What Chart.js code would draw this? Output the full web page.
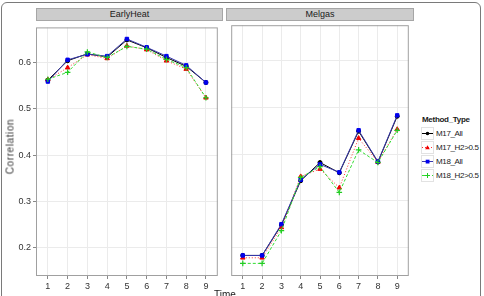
<!DOCTYPE html>
<html>
<head>
<meta charset="utf-8">
<script src="https://cdn.jsdelivr.net/npm/chart.js@4/dist/chart.umd.min.js"></script>
<style>
  html,body{margin:0;padding:0;background:#fff;}
  body{width:484px;height:296px;position:relative;overflow:hidden;font-family:"Liberation Sans",Arial,sans-serif;}
  .frame{position:absolute;left:1px;top:2px;width:478px;height:310px;border:1px solid #7a7a7a;border-radius:6px;}
  canvas{position:absolute;}
  .strip{position:absolute;top:8px;height:11px;background:#cccccc;border:1px solid #a6a6a6;
    font-size:9px;line-height:11px;text-align:center;color:#1a1a1a;box-sizing:content-box;}
  .ytitle{position:absolute;left:-22px;top:141px;width:64px;text-align:center;font-size:10px;font-weight:normal;
    letter-spacing:0.6px;color:#333;transform:rotate(-90deg);}
  .xtitle{position:absolute;left:205px;top:289px;width:40px;text-align:center;font-size:10px;color:#1a1a1a;}
  .legend{position:absolute;left:421px;top:113px;font-size:8px;color:#1a1a1a;letter-spacing:-0.35px;}
  .legend .ttl{font-weight:bold;height:13px;line-height:13px;letter-spacing:-0.3px;margin-left:1px;}
  .legend .row{height:14px;display:flex;align-items:center;}
  .legend svg{display:block;margin-right:2px;}
</style>
</head>
<body>
<div class="frame"></div>
<div class="strip" style="left:36px;width:185px;">EarlyHeat</div>
<div class="strip" style="left:226px;width:186px;">Melgas</div>
<canvas id="left" width="223" height="276" style="left:0;top:20px;width:223px;height:276px;"></canvas>
<canvas id="right" width="188" height="276" style="left:226px;top:20px;width:188px;height:276px;"></canvas>
<div class="ytitle">Correlation</div>
<div class="xtitle">Time</div>
<div class="legend" id="legend"><div class="ttl">Method_Type</div></div>
<script>
/* ── Data ── */
const times=[1,2,3,4,5,6,7,8,9];
const yTicks=[0.2,0.3,0.4,0.5,0.6];
const seriesNames=['M17_All','M17_H2>0.5','M18_All','M18_H2>0.5'];

const earlyM17All=[0.562,0.604,0.619,0.612,0.649,0.632,0.611,0.592,0.557];
const earlyM17H2=[0.563,0.589,0.617,0.609,0.636,0.628,0.604,0.586,0.524];
const earlyM18All=[0.559,0.606,0.618,0.614,0.651,0.633,0.614,0.594,0.557];
const earlyM18H2=[0.564,0.579,0.623,0.611,0.635,0.629,0.607,0.589,0.524];

const melgasM17All=[0.183,0.183,0.248,0.343,0.382,0.360,0.449,0.383,0.481];
const melgasM17H2=[0.178,0.178,0.243,0.352,0.368,0.328,0.434,0.383,0.453];
const melgasM18All=[0.183,0.183,0.250,0.345,0.378,0.361,0.451,0.384,0.483];
const melgasM18H2=[0.166,0.166,0.236,0.350,0.373,0.318,0.409,0.382,0.451];

/* ── Styles per series ── */
const styles=[
  {line:'#000000',point:'#000000',dash:[],shape:'circle',r:2},
  {line:'#ff3030',point:'#ee0000',dash:[1,2],shape:'triangle',r:2.6},
  {line:'#3a3ab0',point:'#0000ee',dash:[],shape:'rect',r:2.4},
  {line:'#33dd33',point:'#22cc22',dash:[3,2],shape:'cross',r:2.8}
];

const panelBorder={
  id:'panelBorder',
  afterDraw(chart){
    const a=chart.chartArea,ctx=chart.ctx;
    ctx.save();
    ctx.strokeStyle='#a0a0a0';ctx.lineWidth=1;
    ctx.strokeRect(a.left+0.5,a.top+0.5,a.right-a.left-1,a.bottom-a.top-1);
    ctx.restore();
  }
};

function makePanel(id,seriesVals,showY){
  const datasets=seriesVals.map((vals,i)=>({
    label:seriesNames[i],
    data:times.map((t,j)=>({x:t,y:vals[j]})),
    borderColor:styles[i].line,
    backgroundColor:styles[i].point,
    pointBorderColor:styles[i].point,
    pointBackgroundColor:styles[i].point,
    borderDash:styles[i].dash,
    borderWidth:1,
    pointStyle:styles[i].shape,
    pointRadius:styles[i].r,
    pointBorderWidth:styles[i].shape==='cross'?1.2:1,
    tension:0,
    order:3-i
  }));
  return new Chart(document.getElementById(id),{
    type:'line',
    data:{datasets},
    plugins:[panelBorder],
    options:{
      responsive:false,animation:false,
      layout:{padding:0},
      plugins:{legend:{display:false},tooltip:{enabled:false}},
      scales:{
        x:{
          type:'linear',min:0.4,max:9.6,
          afterBuildTicks:s=>{s.ticks=times.map(v=>({value:v}));},
          afterFit:s=>{s.height=20;},
          grid:{color:'#ebebeb',tickColor:'#888',tickLength:3,drawOnChartArea:true},
          border:{display:false},
          ticks:{color:'#333',font:{family:'Liberation Sans',size:9},padding:2,maxRotation:0}
        },
        y:{
          type:'linear',min:0.139,max:0.676,
          afterBuildTicks:s=>{s.ticks=yTicks.map(v=>({value:v}));},
          afterFit:s=>{s.width=showY?36:0;},
          grid:{color:'#ebebeb',tickColor:'#888',tickLength:3,drawTicks:showY},
          border:{display:false},
          ticks:{display:showY,color:'#333',font:{family:'Liberation Sans',size:9},padding:2,
            callback:v=>v.toFixed(1)}
        }
      }
    }
  });
}

makePanel('left',[earlyM17All,earlyM17H2,earlyM18All,earlyM18H2],true);
makePanel('right',[melgasM17All,melgasM17H2,melgasM18All,melgasM18H2],false);

/* ── Legend ── */
const legend=document.getElementById('legend');
function keySvg(s){
  const c=s.point;
  let mark='';
  if(s.shape==='circle')mark=`<circle cx="6.5" cy="6.5" r="1.8" fill="${c}"/>`;
  else if(s.shape==='triangle')mark=`<polygon points="6.5,4.2 8.8,8.3 4.2,8.3" fill="${c}"/>`;
  else if(s.shape==='rect')mark=`<rect x="4.7" y="4.7" width="3.8" height="3.8" fill="${c}"/>`;
  else mark=`<path d="M6.5 4 V9 M4 6.5 H9" stroke="${c}" stroke-width="1"/>`;
  const dash=s.dash.length?`stroke-dasharray="${s.dash.join(' ')}"`:'';
  return `<svg width="13" height="13"><rect x="0.5" y="0.5" width="12" height="12" fill="#fff" stroke="#e2e2e2"/>`+
    `<line x1="1" y1="6.5" x2="12" y2="6.5" stroke="${s.line}" stroke-width="1" ${dash}/>${mark}</svg>`;
}
seriesNames.forEach((n,i)=>{
  const row=document.createElement('div');
  row.className='row';
  row.innerHTML=keySvg(styles[i])+'<span></span>';
  row.querySelector('span').textContent=n;
  legend.appendChild(row);
});
</script>
</body>
</html>
